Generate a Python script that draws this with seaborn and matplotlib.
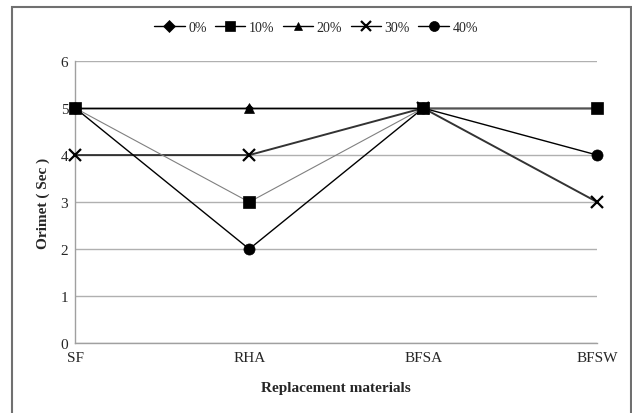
import pandas as pd
import matplotlib.pyplot as plt
import seaborn as sns
from matplotlib.patches import Rectangle

sns.set_theme(style="white")
plt.rcParams["font.family"] = ["Liberation Serif", "DejaVu Serif"]

materials = ["SF", "RHA", "BFSA", "BFSW"]
series_names = ["0%", "10%", "20%", "30%", "40%"]
vals_0 = [5, 5, 5, 5]
vals_10 = [5, 3, 5, 5]
vals_20 = [5, 5, 5, 5]
vals_30 = [4, 4, 5, 3]
vals_40 = [5, 2, 5, 4]

markers = {"0%": "D", "10%": "s", "20%": "^", "30%": "x", "40%": "o"}
colors = {"0%": "black", "10%": "#808080", "20%": "black", "30%": "#333333", "40%": "black"}
widths = {"0%": 1.0, "10%": 0.8, "20%": 1.0, "30%": 1.4, "40%": 1.0}
sizes = {"0%": 4, "10%": 8, "20%": 7, "30%": 8, "40%": 8}
layers = {"0%": 2, "10%": 6, "20%": 3, "30%": 4, "40%": 5}


def main():
    df = pd.DataFrame({
        "material": materials * 5,
        "value": vals_0 + vals_10 + vals_20 + vals_30 + vals_40,
        "series": [s for s in series_names for _ in materials],
    })

    fig = plt.figure(figsize=(6.32, 4.14), dpi=100)
    ax = fig.add_axes([0.119, 0.169, 0.826, 0.681])

    for name in series_names:
        sub = df[df["series"] == name]
        sns.lineplot(
            data=sub, x="material", y="value", ax=ax,
            color=colors[name], linewidth=widths[name],
            marker=markers[name], markersize=sizes[name],
            markeredgecolor="black", markerfacecolor="black",
            markeredgewidth=1.6 if name == "30%" else 0.5,
            label=name, sort=False, zorder=layers[name], clip_on=False,
        )

    ax.set_xlim(0, 3)
    ax.set_ylim(0, 6)
    ax.set_yticks(range(7))
    ax.yaxis.grid(True, color="#b0b0b0", linewidth=1)
    ax.set_axisbelow(True)
    for side in ["top", "right"]:
        ax.spines[side].set_visible(False)
    for side in ["left", "bottom"]:
        ax.spines[side].set_color("#a0a0a0")
        ax.spines[side].set_linewidth(1)
    ax.tick_params(axis="x", direction="in", length=5, color="#a0a0a0",
                   labelsize=11, pad=6)
    ax.tick_params(axis="y", length=0, labelsize=11, pad=5)
    ax.set_xlabel("Replacement materials", fontsize=11, fontweight="bold", labelpad=12)
    ax.set_ylabel("Orimet ( Sec )", fontsize=11, fontweight="bold", labelpad=8)

    handles, labels = ax.get_legend_handles_labels()
    ax.get_legend().remove()
    leg = fig.legend(handles, labels, loc="center", bbox_to_anchor=(0.5, 0.932),
                     ncol=5, frameon=False, fontsize=10, handlelength=2.2,
                     handletextpad=0.25, columnspacing=0.6, markerscale=0.9)
    for h in leg.legend_handles:
        h.set_color("black")
        h.set_linewidth(1.0)
        if h.get_marker() == "D":
            h.set_markersize(6)

    fig.patches.append(Rectangle((12 / 632, -0.05), 619 / 632, 1 - 8 / 414 + 0.05,
                                 transform=fig.transFigure, fill=False,
                                 edgecolor="#707070", linewidth=1.5))

    fig.savefig("out.png", dpi=100)


if __name__ == "__main__":
    main()
